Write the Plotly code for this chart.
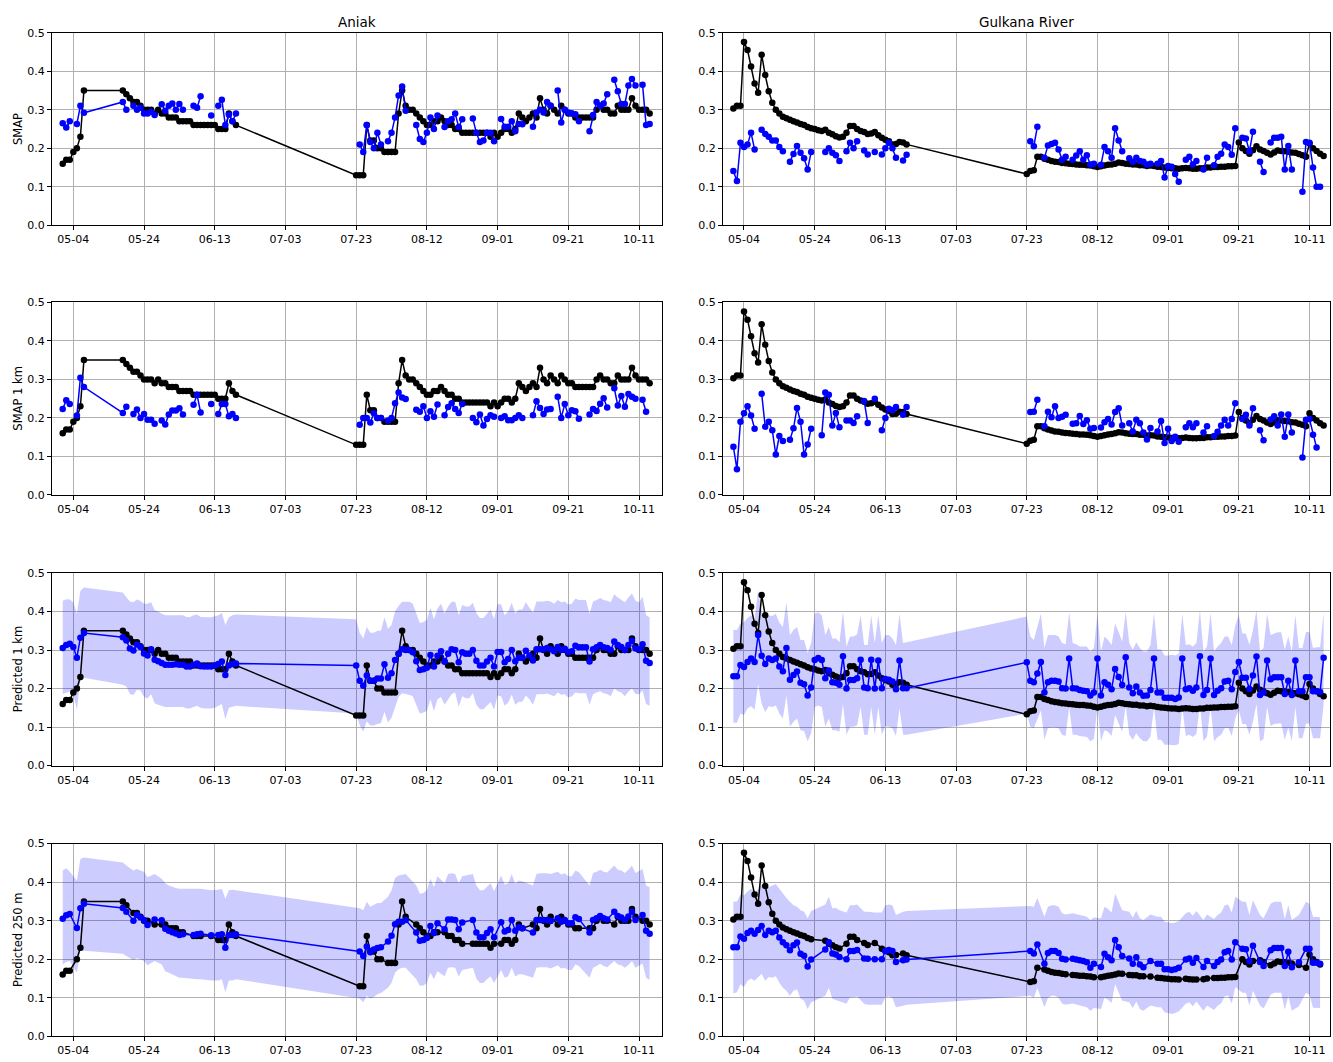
import pandas as pd
import plotly.graph_objects as go

N = None

# ---------------- categories / labels ----------------
SITES = ["Aniak", "Gulkana River"]
ROW_LABELS = ["SMAP", "SMAP 1 km", "Predicted 1 km", "Predicted 250 m"]
X_TICK_LABELS = ["05-04", "05-24", "06-13", "07-03", "07-23", "08-12", "09-01", "09-21", "10-11"]
Y_TICKS = [0.0, 0.1, 0.2, 0.3, 0.4, 0.5]
YEAR = "2019"

# date spans (daily observations) for each site
ANIAK_SPANS = [("2019-05-01", "2019-05-07"), ("2019-05-18", "2019-06-19"), ("2019-07-23", "2019-10-14")]
GULKANA_SPANS = [("2019-05-01", "2019-06-19"), ("2019-07-23", "2019-10-15")]

# ---------------- Aniak (124 dates) ----------------
ANIAK_INSITU = [
    0.16, 0.17, 0.17, 0.19, 0.20, 0.23, 0.35,
    0.35, 0.34, 0.33, 0.32, 0.32, 0.31, 0.30, 0.30, 0.30, 0.29,
    0.30, 0.29, 0.29, 0.28, 0.28, 0.28, 0.27, 0.27, 0.27, 0.27,
    0.26, 0.26, 0.26, 0.26, 0.26, 0.26, 0.26, 0.25, 0.25, 0.25,
    0.29, 0.27, 0.26,
    0.13, 0.13, 0.13, 0.26, 0.22, 0.22, 0.20, 0.20, 0.19, 0.19,
    0.19, 0.19, 0.29, 0.35, 0.31, 0.30, 0.30, 0.29, 0.28, 0.27,
    0.26, 0.26, 0.27, 0.27, 0.28, 0.27, 0.26, 0.26, 0.25, 0.25,
    0.24, 0.24, 0.24, 0.24, 0.24, 0.24, 0.24, 0.24, 0.23, 0.24,
    0.23, 0.24, 0.25, 0.25, 0.24, 0.25, 0.29, 0.28, 0.27, 0.28,
    0.29, 0.28, 0.33, 0.30, 0.29, 0.31, 0.30, 0.29, 0.31, 0.30,
    0.29, 0.29, 0.28, 0.28, 0.28, 0.28, 0.28, 0.28, 0.30, 0.31,
    0.30, 0.30, 0.29, 0.29, 0.31, 0.30, 0.30, 0.30, 0.33, 0.31,
    0.30, 0.30, 0.30, 0.29,
]
ANIAK_SMAP = [
    0.265, 0.254, 0.27, N, 0.263, 0.31, 0.292,
    0.32, 0.30, N, 0.31, 0.30, 0.305, 0.29, 0.29, 0.295, 0.286,
    N, 0.314, 0.297, 0.31, 0.316, 0.30, 0.315, 0.30, N, N,
    0.31, 0.305, 0.335, N, N, 0.285, N, 0.31, 0.326, 0.26,
    0.287, 0.27, 0.29,
    N, 0.21, 0.19, 0.26, 0.216, 0.20, 0.24, 0.21, N, 0.218,
    0.24, 0.28, 0.337, 0.36, 0.297, N, N, 0.26, 0.224, 0.216,
    0.24, 0.28, 0.25, 0.285, N, 0.255, 0.27, 0.275, 0.29, 0.255,
    0.275, N, N, 0.277, 0.24, 0.216, 0.22, 0.24, 0.24, 0.218,
    N, 0.276, 0.256, 0.256, 0.27, 0.244, 0.263, 0.262, N, N,
    0.256, 0.293, 0.30, 0.293, 0.32, 0.31, N, 0.35, 0.267, 0.30,
    0.293, 0.29, 0.288, 0.27, N, N, 0.244, 0.286, 0.32, 0.31,
    0.316, 0.34, N, 0.378, 0.348, 0.315, 0.315, 0.363, 0.38, 0.363,
    N, 0.365, 0.26, 0.263,
]
ANIAK_SMAP_1KM = [
    0.223, 0.246, 0.236, N, 0.206, 0.304, 0.28,
    0.213, 0.229, N, 0.21, 0.222, 0.20, 0.21, 0.195, 0.195, 0.185,
    N, 0.193, 0.183, 0.209, 0.219, 0.219, 0.225, 0.209, N, N,
    0.234, 0.26, 0.214, N, N, 0.236, N, 0.21, 0.236, 0.236,
    0.204, 0.21, 0.20,
    N, 0.182, 0.20, 0.20, 0.188, 0.212, 0.20, 0.20, N, 0.193,
    0.20, 0.238, 0.266, 0.253, 0.249, N, N, 0.221, 0.216, 0.23,
    0.20, 0.217, 0.203, 0.235, N, 0.207, 0.228, 0.238, 0.223, 0.213,
    0.236, N, N, 0.20, 0.189, 0.209, 0.18, 0.197, 0.207, 0.203,
    N, 0.20, 0.204, 0.194, 0.194, 0.20, 0.207, 0.20, N, N,
    0.207, 0.243, 0.226, 0.21, 0.222, 0.223, N, 0.255, 0.20, 0.236,
    0.207, 0.22, 0.217, 0.198, N, N, 0.209, 0.223, 0.218, 0.237,
    0.251, 0.227, N, 0.277, 0.232, 0.257, 0.229, 0.262, 0.255, 0.25,
    N, 0.247, 0.216, N,
]
ANIAK_PRED_1KM = [
    0.305, 0.313, 0.316, 0.308, 0.28, 0.332, 0.344,
    0.333, 0.325, 0.304, 0.299, 0.314, 0.308, 0.291, 0.286, 0.302, 0.275,
    0.271, 0.266, 0.262, 0.262, 0.262, 0.263, 0.262, 0.262, 0.257, 0.257,
    0.262, 0.265, 0.258, 0.257, 0.257, 0.257, 0.26, 0.264, 0.27, 0.235,
    0.26, 0.264, 0.265,
    0.26, 0.22, 0.207, 0.234, 0.22, 0.22, 0.226, 0.226, 0.263, 0.228,
    0.24, 0.274, 0.29, 0.302, 0.30, 0.30, 0.294, 0.271, 0.248, 0.25,
    0.254, 0.287, 0.257, 0.285, 0.297, 0.27, 0.29, 0.302, 0.30, 0.268,
    0.294, 0.29, 0.29, 0.30, 0.272, 0.26, 0.26, 0.27, 0.28, 0.257,
    0.295, 0.295, 0.268, 0.277, 0.30, 0.271, 0.28, 0.28, 0.298, 0.286,
    0.273, 0.302, 0.302, 0.302, 0.305, 0.302, 0.297, 0.308, 0.30, 0.303,
    0.295, 0.297, 0.311, 0.307, 0.307, 0.307, 0.27, 0.302, 0.307, 0.313,
    0.307, 0.305, 0.30, 0.322, 0.313, 0.308, 0.30, 0.313, 0.324, 0.304,
    0.302, 0.315, 0.272, 0.266,
]
ANIAK_PRED_1KM_HI = [
    0.428, 0.432, 0.431, 0.424, 0.394, 0.453, 0.462,
    0.449, 0.437, 0.426, 0.424, 0.431, 0.427, 0.42, 0.42, 0.424, 0.403,
    0.40, 0.394, 0.39, 0.39, 0.39, 0.39, 0.39, 0.39, 0.386, 0.386,
    0.39, 0.392, 0.386, 0.385, 0.385, 0.385, 0.388, 0.39, 0.396, 0.365,
    0.385, 0.39, 0.392,
    0.38, 0.345, 0.33, 0.36, 0.345, 0.345, 0.35, 0.35, 0.385, 0.355,
    0.365, 0.40, 0.415, 0.425, 0.425, 0.425, 0.42, 0.395, 0.37, 0.373,
    0.378, 0.41, 0.38, 0.408, 0.42, 0.395, 0.413, 0.425, 0.425, 0.39,
    0.417, 0.413, 0.413, 0.423, 0.396, 0.383, 0.383, 0.394, 0.405, 0.38,
    0.42, 0.418, 0.39, 0.40, 0.423, 0.395, 0.405, 0.405, 0.424, 0.41,
    0.397, 0.426, 0.426, 0.426, 0.428, 0.426, 0.42, 0.43, 0.424, 0.426,
    0.418, 0.42, 0.434, 0.43, 0.43, 0.43, 0.394, 0.426, 0.43, 0.435,
    0.43, 0.428, 0.424, 0.445, 0.436, 0.431, 0.424, 0.436, 0.447, 0.428,
    0.424, 0.438, 0.39, 0.385,
]
ANIAK_PRED_1KM_LO = [
    0.186, 0.19, 0.192, 0.186, 0.145, 0.22, 0.228,
    0.21, 0.205, 0.186, 0.183, 0.197, 0.195, 0.178, 0.174, 0.186, 0.162,
    0.158, 0.155, 0.152, 0.152, 0.152, 0.153, 0.152, 0.152, 0.148, 0.148,
    0.152, 0.155, 0.15, 0.148, 0.148, 0.148, 0.15, 0.154, 0.16, 0.12,
    0.15, 0.153, 0.155,
    0.135, 0.105, 0.088, 0.115, 0.104, 0.104, 0.108, 0.11, 0.14, 0.112,
    0.124, 0.152, 0.178, 0.188, 0.186, 0.184, 0.18, 0.158, 0.135, 0.138,
    0.142, 0.172, 0.142, 0.172, 0.178, 0.158, 0.172, 0.185, 0.19, 0.152,
    0.18, 0.175, 0.175, 0.188, 0.158, 0.146, 0.146, 0.155, 0.165, 0.145,
    0.182, 0.18, 0.155, 0.164, 0.184, 0.158, 0.166, 0.166, 0.182, 0.172,
    0.158, 0.185, 0.185, 0.185, 0.187, 0.184, 0.18, 0.19, 0.184, 0.185,
    0.177, 0.18, 0.19, 0.188, 0.188, 0.188, 0.158, 0.185, 0.19, 0.193,
    0.188, 0.186, 0.18, 0.2, 0.193, 0.19, 0.18, 0.192, 0.2, 0.186,
    0.185, 0.195, 0.16, 0.155,
]
ANIAK_PRED_250M = [
    0.305, 0.314, 0.317, N, 0.281, 0.332, 0.344,
    0.333, 0.323, N, 0.30, 0.315, 0.309, 0.302, 0.289, N, 0.303,
    N, 0.301, 0.279, 0.274, 0.27, 0.267, 0.263, 0.265, N, N,
    0.263, 0.265, 0.266, N, N, 0.262, N, 0.263, 0.265, 0.23,
    0.262, 0.263, 0.265,
    N, 0.22, 0.208, 0.233, 0.218, 0.225, 0.229, 0.231, N, 0.246,
    0.261, 0.291, 0.297, 0.297, 0.302, N, N, 0.269, 0.248, 0.25,
    0.255, 0.286, 0.268, 0.293, N, 0.278, 0.303, 0.303, 0.302, 0.278,
    0.295, N, N, 0.302, 0.269, 0.257, 0.257, 0.268, 0.278, 0.257,
    N, 0.296, 0.272, 0.276, 0.302, 0.274, 0.283, 0.28, N, N,
    0.269, 0.302, 0.302, 0.302, 0.302, 0.299, N, 0.306, 0.297, 0.302,
    0.293, 0.293, 0.309, 0.304, N, N, 0.269, 0.302, 0.306, 0.312,
    0.306, 0.303, N, 0.323, 0.312, 0.308, 0.302, 0.311, 0.323, 0.302,
    N, 0.315, 0.274, 0.266,
]
ANIAK_PRED_250M_HI = [
    0.43, 0.436, 0.427, N, 0.404, 0.46, 0.464,
    0.451, 0.443, N, 0.43, 0.434, 0.43, 0.427, 0.413, N, 0.421,
    N, 0.409, 0.397, 0.391, 0.387, 0.385, 0.383, 0.383, N, N,
    0.383, 0.383, 0.383, N, N, 0.379, N, 0.38, 0.383, 0.357,
    0.379, 0.38, 0.379,
    N, 0.332, 0.327, 0.349, 0.336, 0.34, 0.346, 0.346, N, 0.362,
    0.379, 0.411, 0.417, 0.419, 0.421, N, N, 0.391, 0.37, 0.372,
    0.379, 0.409, 0.387, 0.415, N, 0.397, 0.421, 0.423, 0.421, 0.397,
    0.415, N, N, 0.421, 0.391, 0.379, 0.379, 0.387, 0.397, 0.377,
    N, 0.417, 0.394, 0.397, 0.421, 0.396, 0.404, 0.402, N, N,
    0.391, 0.421, 0.423, 0.423, 0.423, 0.421, N, 0.427, 0.42, 0.423,
    0.415, 0.415, 0.43, 0.426, N, N, 0.391, 0.424, 0.427, 0.432,
    0.427, 0.425, N, 0.443, 0.432, 0.43, 0.424, 0.432, 0.443, 0.424,
    N, 0.434, 0.391, 0.387,
]
ANIAK_PRED_250M_LO = [
    0.186, 0.193, 0.195, N, 0.165, 0.221, 0.222,
    0.214, 0.208, N, 0.197, 0.203, 0.199, 0.195, 0.184, N, 0.195,
    N, 0.186, 0.169, 0.165, 0.161, 0.156, 0.152, 0.152, N, N,
    0.148, 0.148, 0.148, N, N, 0.145, N, 0.145, 0.148, 0.114,
    0.145, 0.145, 0.148,
    N, 0.098, 0.088, 0.105, 0.098, 0.102, 0.109, 0.112, N, 0.126,
    0.139, 0.165, 0.174, 0.178, 0.178, N, N, 0.148, 0.131, 0.132,
    0.138, 0.165, 0.148, 0.169, N, 0.156, 0.178, 0.179, 0.178, 0.155,
    0.172, N, N, 0.178, 0.15, 0.138, 0.138, 0.148, 0.156, 0.138,
    N, 0.172, 0.152, 0.156, 0.178, 0.155, 0.161, 0.161, N, N,
    0.152, 0.178, 0.179, 0.179, 0.179, 0.176, N, 0.184, 0.176, 0.178,
    0.172, 0.172, 0.186, 0.182, N, N, 0.152, 0.178, 0.182, 0.188,
    0.182, 0.179, N, 0.195, 0.186, 0.184, 0.178, 0.185, 0.195, 0.178,
    N, 0.189, 0.152, 0.146,
]

# ---------------- Gulkana River (135 dates) ----------------
GULKANA_INSITU = [
    0.303, 0.31, 0.31, 0.476, 0.455, 0.412, 0.368, 0.344, 0.443, 0.39,
    0.348, 0.318, 0.30, 0.29, 0.282, 0.278, 0.274, 0.27, 0.267, 0.263,
    0.26, 0.255, 0.252, 0.25, 0.247, 0.245, 0.248, 0.24, 0.236, 0.231,
    0.228, 0.23, 0.24, 0.258, 0.258, 0.25, 0.245, 0.242, 0.237, 0.238,
    0.242, 0.234, 0.227, 0.222, 0.218, 0.21, 0.211, 0.216, 0.215, 0.21,
    0.133, 0.141, 0.143, 0.178, 0.178, 0.173, 0.17, 0.167, 0.165, 0.164,
    0.162, 0.161, 0.16, 0.159, 0.158, 0.157, 0.157, 0.156, 0.155, 0.153,
    0.151, 0.153, 0.155, 0.157, 0.158, 0.16, 0.163, 0.162, 0.16, 0.159,
    0.158, 0.158, 0.156, 0.156, 0.154, 0.155, 0.154, 0.152, 0.151, 0.15,
    0.149, 0.148, 0.148, 0.147, 0.148, 0.149, 0.148, 0.147, 0.147, 0.148,
    0.148, 0.15, 0.15, 0.151, 0.151, 0.152, 0.152, 0.153, 0.153, 0.154,
    0.215, 0.20, 0.193, 0.186, 0.195, 0.205, 0.197, 0.193, 0.188, 0.184,
    0.189, 0.194, 0.193, 0.192, 0.191, 0.189, 0.188, 0.185, 0.182, 0.178,
    0.212, 0.20, 0.193, 0.186, 0.18,
]
GULKANA_SMAP = [
    0.141, 0.115, 0.214, 0.203, 0.21, 0.24, 0.197, N, 0.248, 0.237,
    0.23, 0.22, 0.22, 0.203, 0.192, N, 0.165, 0.185, 0.206, 0.188,
    0.174, 0.145, 0.19, N, N, N, 0.19, 0.20, 0.188, 0.182,
    0.167, N, 0.192, 0.214, 0.20, 0.218, N, 0.194, 0.184, N,
    0.19, N, 0.184, 0.20, 0.214, 0.20, 0.175, N, 0.168, 0.183,
    N, 0.218, 0.205, 0.256, N, 0.175, 0.207, 0.211, 0.214, 0.197,
    0.17, 0.178, N, 0.17, 0.181, 0.192, 0.17, 0.182, 0.158, 0.16,
    N, 0.157, 0.203, 0.192, 0.175, 0.252, 0.22, 0.192, N, 0.174,
    0.165, 0.175, 0.167, 0.165, 0.158, 0.16, N, 0.16, 0.167, 0.124,
    0.154, 0.152, 0.133, 0.113, N, 0.17, 0.178, 0.158, 0.167, N,
    0.145, 0.175, N, 0.156, 0.178, 0.186, 0.21, 0.203, 0.183, 0.252,
    N, 0.227, 0.225, 0.192, 0.243, N, 0.165, 0.138, N, 0.215,
    0.227, 0.227, 0.23, 0.145, 0.206, 0.145, N, N, 0.087, 0.216,
    0.214, 0.15, 0.10, 0.10, N,
]
GULKANA_SMAP_1KM = [
    0.125, 0.067, 0.19, 0.212, 0.23, 0.206, 0.172, N, 0.263, 0.177,
    0.19, 0.168, 0.105, 0.153, 0.14, N, 0.143, 0.173, 0.226, 0.19,
    0.105, 0.131, 0.172, N, N, 0.155, 0.266, 0.26, 0.18, 0.213,
    0.176, N, 0.193, 0.193, 0.187, 0.204, N, 0.244, 0.187, N,
    0.25, N, 0.168, 0.20, 0.224, 0.22, 0.228, N, 0.208, 0.228,
    N, 0.215, 0.216, 0.247, N, 0.178, 0.216, 0.202, 0.23, 0.20,
    0.203, 0.208, N, 0.185, 0.186, 0.205, 0.184, 0.194, 0.172, 0.174,
    N, 0.175, 0.189, 0.197, 0.183, 0.215, 0.225, 0.18, N, 0.186,
    0.165, 0.195, 0.186, 0.162, 0.144, 0.174, N, 0.165, 0.192, 0.135,
    0.172, 0.14, 0.151, 0.138, N, 0.176, 0.186, 0.176, 0.186, N,
    0.162, 0.178, N, 0.153, 0.164, 0.18, 0.195, 0.18, 0.197, 0.238,
    N, 0.197, 0.208, 0.18, 0.225, N, 0.168, 0.142, N, 0.196,
    0.204, 0.18, 0.209, 0.151, 0.209, 0.162, N, N, 0.097, 0.195,
    0.197, 0.156, 0.123, N, N,
]
GULKANA_PRED_1KM = [
    0.232, 0.232, 0.261, 0.256, 0.269, 0.278, 0.269, 0.339, 0.285, 0.264,
    0.278, 0.274, 0.278, 0.257, 0.245, 0.305, 0.223, 0.235, 0.244, 0.215,
    0.211, 0.182, 0.203, 0.274, 0.279, 0.274, 0.227, 0.247, 0.216, 0.215,
    0.21, 0.284, 0.2, 0.222, 0.222, 0.227, 0.275, 0.203, 0.201, 0.275,
    0.2, 0.273, 0.201, 0.225, 0.223, 0.218, 0.198, 0.273, 0.201, 0.201,
    0.268, 0.22, 0.216, 0.239, 0.269, 0.19, 0.216, 0.22, 0.22, 0.218,
    0.201, 0.2, 0.278, 0.201, 0.2, 0.196, 0.194, 0.193, 0.182, 0.19,
    0.278, 0.182, 0.216, 0.21, 0.198, 0.251, 0.23, 0.209, 0.281, 0.203,
    0.188, 0.205, 0.19, 0.181, 0.182, 0.196, 0.278, 0.19, 0.19, 0.176,
    0.176, 0.176, 0.173, 0.177, 0.278, 0.198, 0.201, 0.194, 0.203, 0.284,
    0.183, 0.196, 0.278, 0.183, 0.194, 0.201, 0.218, 0.22, 0.198, 0.243,
    0.269, 0.228, 0.228, 0.199, 0.234, 0.283, 0.183, 0.19, 0.273, 0.224,
    0.229, 0.229, 0.229, 0.186, 0.22, 0.183, 0.273, 0.193, 0.193, 0.229,
    0.229, 0.193, 0.193, 0.191, 0.28,
]
GULKANA_PRED_1KM_HI = [
    0.352, 0.352, 0.369, 0.373, 0.383, 0.39, 0.381, 0.456, 0.398, 0.377,
    0.39, 0.388, 0.394, 0.371, 0.36, 0.424, 0.339, 0.352, 0.36, 0.326,
    0.326, 0.292, 0.318, 0.394, 0.398, 0.39, 0.339, 0.36, 0.33, 0.33,
    0.32, 0.40, 0.309, 0.335, 0.335, 0.341, 0.39, 0.313, 0.313, 0.39,
    0.318, 0.39, 0.318, 0.339, 0.339, 0.33, 0.313, 0.394, 0.318, 0.32,
    0.387, 0.335, 0.326, 0.36, 0.394, 0.305, 0.339, 0.339, 0.339, 0.335,
    0.318, 0.315, 0.398, 0.318, 0.315, 0.309, 0.309, 0.309, 0.296, 0.305,
    0.394, 0.296, 0.335, 0.326, 0.313, 0.369, 0.347, 0.322, 0.40, 0.318,
    0.301, 0.32, 0.305, 0.296, 0.296, 0.313, 0.396, 0.302, 0.302, 0.286,
    0.286, 0.288, 0.286, 0.29, 0.394, 0.313, 0.315, 0.309, 0.318, 0.403,
    0.296, 0.309, 0.396, 0.296, 0.309, 0.318, 0.335, 0.335, 0.313, 0.364,
    0.39, 0.343, 0.343, 0.313, 0.352, 0.403, 0.296, 0.305, 0.394, 0.339,
    0.343, 0.346, 0.346, 0.301, 0.335, 0.296, 0.39, 0.305, 0.305, 0.347,
    0.347, 0.305, 0.307, 0.307, 0.398,
]
GULKANA_PRED_1KM_LO = [
    0.111, 0.111, 0.135, 0.131, 0.148, 0.154, 0.145, 0.211, 0.16, 0.139,
    0.154, 0.152, 0.156, 0.135, 0.122, 0.182, 0.101, 0.114, 0.122, 0.092,
    0.09, 0.063, 0.084, 0.152, 0.156, 0.152, 0.101, 0.122, 0.092, 0.092,
    0.088, 0.16, 0.08, 0.101, 0.101, 0.105, 0.152, 0.08, 0.08, 0.152,
    0.08, 0.152, 0.08, 0.103, 0.101, 0.097, 0.077, 0.148, 0.08, 0.08,
    0.135, 0.101, 0.097, 0.118, 0.143, 0.067, 0.097, 0.099, 0.099, 0.097,
    0.08, 0.077, 0.152, 0.08, 0.08, 0.077, 0.075, 0.074, 0.063, 0.069,
    0.152, 0.063, 0.092, 0.088, 0.077, 0.131, 0.109, 0.088, 0.156, 0.08,
    0.067, 0.084, 0.071, 0.063, 0.063, 0.075, 0.152, 0.067, 0.067, 0.054,
    0.054, 0.054, 0.053, 0.056, 0.152, 0.077, 0.08, 0.074, 0.082, 0.159,
    0.063, 0.075, 0.152, 0.063, 0.074, 0.08, 0.097, 0.098, 0.077, 0.122,
    0.145, 0.108, 0.108, 0.08, 0.114, 0.16, 0.063, 0.069, 0.152, 0.103,
    0.108, 0.109, 0.109, 0.067, 0.099, 0.063, 0.152, 0.071, 0.071, 0.109,
    0.109, 0.071, 0.071, 0.071, 0.159,
]
GULKANA_PRED_250M = [
    0.231, 0.231, 0.259, 0.253, 0.268, 0.274, 0.266, 0.276, 0.286, 0.263,
    0.274, 0.27, 0.274, 0.256, 0.244, 0.236, 0.223, 0.236, 0.243, 0.214,
    0.209, 0.181, 0.199, N, N, N, 0.225, 0.244, 0.215, 0.212,
    0.206, N, 0.2, 0.221, 0.221, 0.224, N, 0.202, 0.201, N,
    0.2, N, 0.2, 0.221, 0.224, 0.221, 0.193, N, 0.197, 0.199,
    N, 0.221, 0.215, 0.238, N, 0.188, 0.216, 0.221, 0.221, 0.216,
    0.201, 0.199, N, 0.201, 0.199, 0.197, 0.195, 0.192, 0.178, 0.188,
    N, 0.18, 0.214, 0.205, 0.197, 0.25, 0.231, 0.208, N, 0.202,
    0.188, 0.205, 0.186, 0.179, N, 0.195, N, 0.188, 0.188, 0.174,
    0.174, 0.172, 0.174, 0.178, N, 0.199, 0.202, 0.191, 0.203, N,
    0.18, 0.195, N, 0.182, 0.193, 0.199, 0.218, 0.221, 0.199, 0.244,
    N, 0.227, 0.226, 0.195, 0.235, N, 0.193, 0.182, N, 0.223,
    0.229, 0.229, 0.229, 0.182, 0.219, 0.179, N, 0.192, N, 0.227,
    0.227, 0.191, 0.191, 0.188, N,
]
GULKANA_PRED_250M_HI = [
    0.349, 0.35, 0.368, 0.366, 0.376, 0.383, 0.374, 0.381, 0.393, 0.383,
    0.387, 0.391, 0.395, 0.383, 0.37, 0.359, 0.349, 0.34, 0.336, 0.327,
    0.323, 0.306, 0.325, N, N, N, 0.342, 0.362, 0.332, 0.333,
    0.327, N, 0.321, 0.34, 0.34, 0.342, N, 0.323, 0.323, N,
    0.321, N, 0.321, 0.34, 0.342, 0.34, 0.315, N, 0.323, 0.325,
    N, 0.338, 0.336, 0.359, N, 0.31, 0.336, 0.34, 0.34, 0.336,
    0.319, 0.316, N, 0.319, 0.316, 0.315, 0.313, 0.31, 0.302, 0.308,
    N, 0.306, 0.336, 0.33, 0.321, 0.37, 0.349, 0.327, N, 0.323,
    0.308, 0.325, 0.306, 0.302, N, 0.316, N, 0.31, 0.31, 0.297,
    0.296, 0.293, 0.295, 0.299, N, 0.319, 0.323, 0.313, 0.325, N,
    0.302, 0.316, N, 0.304, 0.315, 0.321, 0.34, 0.342, 0.321, 0.362,
    N, 0.349, 0.349, 0.315, 0.353, N, 0.315, 0.306, N, 0.344,
    0.349, 0.349, 0.349, 0.304, 0.34, 0.302, N, 0.315, N, 0.349,
    0.344, 0.31, 0.31, 0.309, N,
]
GULKANA_PRED_250M_LO = [
    0.111, 0.114, 0.135, 0.128, 0.144, 0.15, 0.144, 0.152, 0.162, 0.144,
    0.154, 0.152, 0.156, 0.139, 0.126, 0.118, 0.105, 0.118, 0.122, 0.097,
    0.092, 0.071, 0.088, N, N, N, 0.105, 0.126, 0.097, 0.094,
    0.09, N, 0.084, 0.101, 0.101, 0.103, N, 0.084, 0.082, N,
    0.082, N, 0.082, 0.101, 0.103, 0.099, 0.075, N, 0.079, 0.082,
    N, 0.105, 0.10, 0.125, N, 0.075, 0.10, 0.105, 0.105, 0.10,
    0.085, 0.082, N, 0.085, 0.082, 0.08, 0.078, 0.075, 0.066, 0.073,
    N, 0.071, 0.10, 0.095, 0.086, 0.135, 0.114, 0.092, N, 0.088,
    0.073, 0.09, 0.071, 0.066, N, 0.08, N, 0.075, 0.075, 0.062,
    0.06, 0.058, 0.06, 0.064, N, 0.084, 0.088, 0.078, 0.09, N,
    0.066, 0.08, N, 0.068, 0.079, 0.085, 0.104, 0.106, 0.085, 0.128,
    N, 0.113, 0.113, 0.08, 0.118, N, 0.08, 0.072, N, 0.108,
    0.113, 0.113, 0.113, 0.069, 0.104, 0.066, N, 0.078, N, 0.113,
    0.108, 0.074, 0.074, 0.073, N,
]


# ---------------- build ----------------
def expand(spans):
    out = []
    for s, e in spans:
        out.extend(pd.date_range(s, e, freq="D"))
    return out


SITE_DATA = [
    dict(dates=expand(ANIAK_SPANS), insitu=ANIAK_INSITU,
         rows=[ANIAK_SMAP, ANIAK_SMAP_1KM, ANIAK_PRED_1KM, ANIAK_PRED_250M],
         bands={2: (ANIAK_PRED_1KM_HI, ANIAK_PRED_1KM_LO), 3: (ANIAK_PRED_250M_HI, ANIAK_PRED_250M_LO)}),
    dict(dates=expand(GULKANA_SPANS), insitu=GULKANA_INSITU,
         rows=[GULKANA_SMAP, GULKANA_SMAP_1KM, GULKANA_PRED_1KM, GULKANA_PRED_250M],
         bands={2: (GULKANA_PRED_1KM_HI, GULKANA_PRED_1KM_LO), 3: (GULKANA_PRED_250M_HI, GULKANA_PRED_250M_LO)}),
]
for sd in SITE_DATA:
    n = len(sd["dates"])
    for arr in [sd["insitu"]] + sd["rows"] + [a for b in sd["bands"].values() for a in b]:
        assert len(arr) == n, (len(arr), n)

W, H = 1333, 1062
COL_PX = [(52, 662), (723, 1330)]
ROW_PX = [(27, 222), (300, 495), (574, 769), (848, 1043)]
BASE = pd.Timestamp(YEAR + "-05-04")
X_RANGE_DAYS = [(-6.03, 166.5), (-5.94, 165.8)]
FONT = "DejaVu Sans"
BAND = "rgba(0,0,255,0.2)"
BLACK = "#000000"
BLUE = "#0000ff"
LW = 1.5
MS = 6.5

tickvals = [pd.Timestamp(YEAR + "-" + t) for t in X_TICK_LABELS]

fig = go.Figure()
layout = {}
for r in range(4):
    for c in range(2):
        idx = r * 2 + c + 1
        xr = "x" if idx == 1 else f"x{idx}"
        yr = "y" if idx == 1 else f"y{idx}"
        sd = SITE_DATA[c]
        dates, insitu, pred = sd["dates"], sd["insitu"], sd["rows"][r]
        if r == 3:
            keep = [i for i, v in enumerate(pred) if v is not None]
        else:
            keep = list(range(len(dates)))
        xs = [dates[i] for i in keep]
        if r in sd["bands"]:
            hi, lo = sd["bands"][r]
            fig.add_trace(go.Scatter(x=xs, y=[hi[i] for i in keep], mode="lines",
                                     line=dict(width=0, color=BAND), showlegend=False,
                                     hoverinfo="skip", xaxis=xr, yaxis=yr))
            fig.add_trace(go.Scatter(x=xs, y=[lo[i] for i in keep], mode="lines",
                                     line=dict(width=0, color=BAND), fill="tonexty",
                                     fillcolor=BAND, showlegend=False,
                                     hoverinfo="skip", xaxis=xr, yaxis=yr))
        fig.add_trace(go.Scatter(x=xs, y=[insitu[i] for i in keep], mode="lines+markers",
                                 line=dict(color=BLACK, width=LW),
                                 marker=dict(color=BLACK, size=MS),
                                 showlegend=False, xaxis=xr, yaxis=yr))
        fig.add_trace(go.Scatter(x=xs, y=[pred[i] for i in keep], mode="lines+markers",
                                 line=dict(color=BLUE, width=LW),
                                 marker=dict(color=BLUE, size=MS),
                                 connectgaps=False,
                                 showlegend=False, xaxis=xr, yaxis=yr))

        x0, x1 = COL_PX[c]
        y0, y1 = ROW_PX[r]
        d0, d1 = X_RANGE_DAYS[c]
        common = dict(showline=True, linecolor="black", linewidth=0.9, mirror=True,
                      ticks="outside", ticklen=4, tickwidth=0.9, tickcolor="black",
                      showgrid=True, gridcolor="#b0b0b0", gridwidth=0.9, zeroline=False,
                      tickfont=dict(family=FONT, size=11, color="black"))
        layout["xaxis" if idx == 1 else f"xaxis{idx}"] = dict(
            domain=[x0 / W, x1 / W], anchor=yr, type="date",
            range=[BASE + pd.Timedelta(days=d0), BASE + pd.Timedelta(days=d1)],
            tickmode="array", tickvals=tickvals, ticktext=X_TICK_LABELS, **common)
        layout["yaxis" if idx == 1 else f"yaxis{idx}"] = dict(
            domain=[(H - y1) / H, (H - y0) / H], anchor=xr,
            range=[0, 0.5], tickmode="array", tickvals=Y_TICKS,
            ticktext=[f"{v:.1f}" for v in Y_TICKS], **common)

annotations = []
for c, name in enumerate(SITES):
    x0, x1 = COL_PX[c]
    annotations.append(dict(text=name, x=(x0 + x1) / 2 / W, y=1 - 16.5 / H,
                            xref="paper", yref="paper", showarrow=False,
                            xanchor="center", yanchor="middle",
                            font=dict(family=FONT, size=13.5, color="black")))
for r, lab in enumerate(ROW_LABELS):
    y0, y1 = ROW_PX[r]
    annotations.append(dict(text=lab, x=18 / W, y=1 - (y0 + y1) / 2 / H,
                            xref="paper", yref="paper", showarrow=False, textangle=-90,
                            xanchor="center", yanchor="middle",
                            font=dict(family=FONT, size=11.5, color="black")))

fig.update_layout(width=W, height=H, margin=dict(l=0, r=0, t=0, b=0),
                  paper_bgcolor="white", plot_bgcolor="white",
                  showlegend=False, annotations=annotations, **layout)

fig.write_html("out.html")
